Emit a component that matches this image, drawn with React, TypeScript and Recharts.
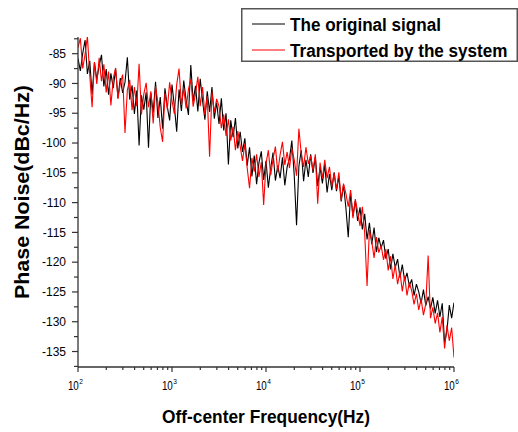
import React from "react";
import { LineChart, Line, XAxis, YAxis, Legend } from "recharts";

// sample grid: 40 points per decade (mantissas) over 4 decades, plus 1 MHz end point
const mantissas = [
  1, 1.0593, 1.122, 1.1885, 1.2589, 1.3335, 1.4125, 1.4962, 1.5849, 1.6788,
  1.7783, 1.8836, 1.9953, 2.1135, 2.2387, 2.3714, 2.5119, 2.6607, 2.8184, 2.9854,
  3.1623, 3.3497, 3.5481, 3.7584, 3.9811, 4.217, 4.4668, 4.7315, 5.0119, 5.3088,
  5.6234, 5.9566, 6.3096, 6.6834, 7.0795, 7.4989, 7.9433, 8.414, 8.9125, 9.4406,
];
const decades = [100, 1000, 10000, 100000];
const endFrequency = 1000000;

const originalSignal = [
  -85.8, -87.9, -85.0, -82.7, -88.4, -86.2, -91.8, -86.5, -89.3, -87.0,
  -85.2, -90.5, -87.6, -91.9, -88.3, -90.8, -87.5, -92.4, -89.1, -91.6,
  -89.8, -85.6, -92.7, -90.3, -95.1, -91.2, -100.4, -92.0, -94.4, -91.5,
  -100.8, -91.6, -94.9, -89.7, -95.8, -92.3, -97.6, -90.8, -93.9, -96.2,
  -90.2, -93.8, -98.1, -91.0, -94.6, -89.5, -92.8, -95.3, -86.9, -93.0,
  -90.4, -94.7, -89.2, -92.9, -96.1, -91.3, -94.8, -90.6, -95.9, -93.2,
  -96.8, -92.5, -97.9, -95.0, -103.6, -96.2, -99.0, -95.8, -100.9, -98.1,
  -101.5, -99.2, -103.8, -100.7, -105.6, -102.1, -106.9, -103.3, -101.4, -106.2,
  -103.0, -107.5, -104.2, -101.6, -106.3, -103.8, -105.9, -102.4, -107.1, -104.0,
  -102.6, -99.6, -105.3, -113.8, -103.9, -101.2, -106.4, -102.8, -105.7, -101.9,
  -105.0, -102.3, -107.2, -104.1, -106.8, -103.6, -108.3, -105.2, -107.9, -104.9,
  -108.1, -105.6, -109.8, -107.0, -110.9, -115.8, -108.4, -112.3, -109.7, -113.1,
  -110.8, -114.5, -111.9, -116.2, -113.4, -117.0, -114.2, -118.3, -115.9, -117.6,
  -116.3, -119.4, -117.8, -121.2, -118.6, -120.9, -119.5, -122.6, -120.4, -123.1,
  -121.8, -124.0, -122.9, -125.6, -123.7, -125.0, -126.9, -124.6, -127.3, -125.8,
  -127.8, -125.9, -128.6, -126.4, -129.2, -126.9, -133.6, -131.5, -127.2, -129.4, -126.8,
];

const transportedSignal = [
  -84.0, -82.4, -87.5, -85.1, -82.1, -88.6, -94.0, -86.4, -90.1, -85.7,
  -89.6, -86.8, -91.5, -88.0, -93.7, -89.2, -87.4, -92.6, -90.0, -88.5,
  -98.3, -91.1, -89.4, -94.5, -90.6, -93.8, -86.7, -95.2, -91.8, -89.9,
  -94.0, -91.3, -96.7, -90.5, -93.2, -97.4, -99.8, -91.6, -94.3, -89.8,
  -92.9, -95.1, -90.2, -87.5, -93.6, -90.8, -94.2, -91.0, -89.3, -93.9,
  -91.7, -88.9, -93.8, -90.6, -95.3, -92.1, -102.3, -91.4, -94.9, -92.6,
  -93.8, -97.5, -95.2, -98.8, -96.0, -99.6, -97.3, -101.2, -98.0, -100.5,
  -103.0, -100.1, -104.2, -107.6, -102.5, -104.8, -101.9, -105.7, -103.2, -110.4,
  -103.5, -101.2, -105.4, -102.7, -100.6, -104.9, -102.0, -99.8, -103.7, -101.5,
  -104.2, -100.9, -102.8, -105.5, -97.6, -101.8, -104.0, -100.7, -103.5, -102.1,
  -104.6, -101.9, -110.2, -103.3, -106.0, -102.8, -105.9, -104.0, -107.3, -105.1,
  -107.8, -104.9, -109.6, -106.8, -108.5, -110.7, -107.9, -112.6, -109.4, -111.5,
  -113.9, -110.7, -115.2, -124.0, -114.6, -116.5, -119.3, -115.8, -118.4, -117.2,
  -119.6, -117.8, -121.4, -119.0, -122.8, -120.5, -123.7, -121.6, -124.9, -122.3,
  -125.6, -123.4, -124.8, -127.1, -125.3, -128.0, -126.2, -128.9, -127.0, -118.9,
  -129.4, -127.6, -130.3, -128.5, -131.8, -129.2, -134.5, -130.6, -133.2, -131.0, -136.0,
];

const tickMultipliers = [1, 2, 3, 4, 5, 6, 7, 8, 9];
const yTicks = [
  -137.5, -135, -132.5, -130, -127.5, -125, -122.5, -120, -117.5, -115, -112.5, -110,
  -107.5, -105, -102.5, -100, -97.5, -95, -92.5, -90, -87.5, -85, -82.5,
];
const yDomain = [-137.6, -82.2];
const xDomain = [100, 1000000];

const seriesNames = ["The original signal", "Transported by the system"];
const xTitle = "Off-center Frequency(Hz)";
const yTitle = "Phase Noise(dBc/Hz)";

const FONT = "'Liberation Sans', Arial, Helvetica, sans-serif";

const frequencies = [
  ...decades.flatMap((d) => mantissas.map((m) => +(d * m).toPrecision(5))),
  endFrequency,
];
const data = frequencies.map((f, i) => ({
  f,
  original: originalSignal[i],
  transported: transportedSignal[i],
}));
const xTicks = [...decades.flatMap((d) => tickMultipliers.map((k) => d * k)), endFrequency];

const AXIS_COLOR = "#333";

const XTick = (props: any) => {
  const { x, y, payload } = props;
  const v = payload.value;
  const exp = Math.log10(v);
  const major = Math.abs(exp - Math.round(exp)) < 1e-6;
  return (
    <g>
      <line x1={x} y1={y} x2={x} y2={y + (major ? 5 : 3)} stroke={AXIS_COLOR} strokeWidth={1.2} />
      {major && (
        <g transform={`translate(${x},${y}) scale(0.82,1)`}>
          <text x={1} y={23.5} textAnchor="end" fontSize={12} fontFamily={FONT} fill="#000">
            10
          </text>
          <text x={1.5} y={17} textAnchor="start" fontSize={8} fontFamily={FONT} fill="#000">
            {Math.round(exp)}
          </text>
        </g>
      )}
    </g>
  );
};

const YTick = (props: any) => {
  const { x, y, payload } = props;
  const v = payload.value;
  const major = Math.abs(v % 5) < 1e-6;
  return (
    <g>
      <line x1={x - (major ? 6 : 4)} y1={y} x2={x} y2={y} stroke={AXIS_COLOR} strokeWidth={1.2} />
      {major && (
        <text x={x - 12} y={y} dy={4.2} textAnchor="end" fontSize={12} fontFamily={FONT} fill="#000">
          {v}
        </text>
      )}
    </g>
  );
};

const XTitle = (props: any) => {
  const vb = props.viewBox;
  return (
    <text
      x={vb.x + vb.width / 2}
      y={vb.y + 56}
      textAnchor="middle"
      fontSize={19}
      fontWeight="bold"
      fontFamily={FONT}
      textLength={208}
      lengthAdjust="spacingAndGlyphs"
      fill="#000"
    >
      {xTitle}
    </text>
  );
};

const YTitle = (props: any) => {
  const vb = props.viewBox;
  const cx = 29;
  const cy = vb.y + vb.height / 2 - 10;
  return (
    <text
      x={cx}
      y={cy}
      transform={`rotate(-90, ${cx}, ${cy})`}
      textAnchor="middle"
      fontSize={20}
      fontWeight="bold"
      fontFamily={FONT}
      textLength={214}
      lengthAdjust="spacingAndGlyphs"
      fill="#000"
    >
      {yTitle}
    </text>
  );
};

const LegendBox = (props: any) => {
  const payload = props.payload || [];
  return (
    <svg width={277} height={54} style={{ display: "block" }}>
      <rect x={0.75} y={0.75} width={275.5} height={52.5} fill="#fff" stroke="#555" strokeWidth={1.5} />
      {payload.map((entry: any, i: number) => {
        const ly = 16 + i * 26;
        return (
          <g key={i}>
            <line x1={11} y1={ly} x2={44} y2={ly} stroke={entry.color} strokeWidth={1.2} />
            <g transform={`translate(49, ${ly + 6.5}) scale(0.9, 1)`}>
              <text x={0} y={0} fontSize={19} fontWeight="bold" fontFamily={FONT} fill="#000">
                {entry.value}
              </text>
            </g>
          </g>
        );
      })}
    </svg>
  );
};

export default function App() {
  return (
    <div style={{ position: "absolute", left: 0, top: 0, background: "#fff" }}>
      <LineChart
        width={518}
        height={432}
        data={data}
        margin={{ top: 37, right: 64, bottom: 35, left: 38 }}
        style={{ fontFamily: FONT }}
      >
        <XAxis
          dataKey="f"
          type="number"
          scale="log"
          domain={xDomain}
          ticks={xTicks}
          interval={0}
          allowDataOverflow
          height={30}
          tickSize={0}
          tickMargin={0}
          tickLine={false}
          tick={<XTick />}
          axisLine={{ stroke: AXIS_COLOR, strokeWidth: 1.3 }}
          label={<XTitle />}
        />
        <YAxis
          type="number"
          domain={yDomain}
          ticks={yTicks}
          interval={0}
          allowDataOverflow
          width={40}
          tickSize={0}
          tickMargin={0}
          tickLine={false}
          tick={<YTick />}
          axisLine={{ stroke: AXIS_COLOR, strokeWidth: 1.3 }}
          label={<YTitle />}
        />
        <Legend
          layout="horizontal"
          verticalAlign="middle"
          align="center"
          wrapperStyle={{ left: 241, top: 8, width: 277, height: 54 }}
          content={<LegendBox />}
        />
        <Line
          type="linear"
          dataKey="original"
          name={seriesNames[0]}
          stroke="#000000"
          strokeWidth={1.1}
          dot={false}
          isAnimationActive={false}
        />
        <Line
          type="linear"
          dataKey="transported"
          name={seriesNames[1]}
          stroke="#ff0000"
          strokeWidth={1.1}
          dot={false}
          isAnimationActive={false}
        />
      </LineChart>
    </div>
  );
}
